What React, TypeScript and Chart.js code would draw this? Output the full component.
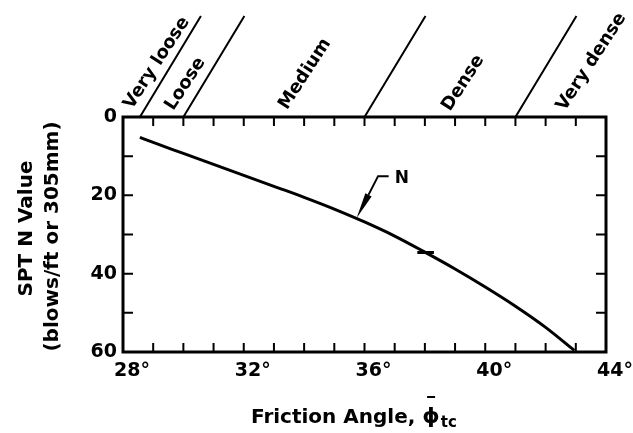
import React, { useEffect, useRef } from "react";
import { Chart, registerables } from "chart.js";

Chart.register(...registerables);

// ---- data ----
const frictionAngle = [28.56, 29, 30, 31, 32, 33, 34, 35, 36, 37, 38, 39, 40, 41, 42, 42.95];
const sptN = [5.2, 6.5, 9.3, 12.1, 14.9, 17.7, 20.5, 23.5, 26.8, 30.4, 34.5, 38.8, 43.4, 48.3, 53.7, 59.6];
const markAngle = [37.75, 38.3];
const markN = [34.6, 34.6];
const xTickValues = [28, 32, 36, 40, 44];
const yTickValues = [0, 20, 40, 60];
const zoneBoundaries = [28.56, 30, 36, 41];
const zoneLabels = ["Very loose", "Loose", "Medium", "Dense", "Very dense"];
const curveLabel = "N";

const FONT = "'DejaVu Sans', sans-serif";

// label anchors: [angle on x axis, pixels above plot top]
const zoneLabelAnchors: [number, number][] = [
  [29.12, 54],
  [30.07, 33],
  [34.03, 43],
  [39.27, 34],
  [43.52, 55],
];

const overlayPlugin = {
  id: "overlay",
  afterDraw(chart: any) {
    const { ctx, chartArea: a, scales } = chart;
    const x = scales.x;
    const y = scales.y;
    ctx.save();
    ctx.strokeStyle = "#000";
    ctx.fillStyle = "#000";

    // frame
    ctx.lineWidth = 3;
    ctx.strokeRect(a.left, a.top, a.right - a.left, a.bottom - a.top);

    // inward minor ticks
    ctx.lineWidth = 2;
    ctx.beginPath();
    for (let d = x.min + 1; d < x.max; d += 1) {
      const px = x.getPixelForValue(d);
      ctx.moveTo(px, a.top);
      ctx.lineTo(px, a.top + 9);
      ctx.moveTo(px, a.bottom);
      ctx.lineTo(px, a.bottom - 9);
    }
    for (let n = y.min + 10; n < y.max; n += 10) {
      const py = y.getPixelForValue(n);
      ctx.moveTo(a.left, py);
      ctx.lineTo(a.left + 10, py);
      ctx.moveTo(a.right, py);
      ctx.lineTo(a.right - 10, py);
    }
    ctx.stroke();

    // zone boundary lines
    ctx.lineWidth = 2;
    ctx.beginPath();
    zoneBoundaries.forEach((b) => {
      const px = x.getPixelForValue(b);
      ctx.moveTo(px, a.top);
      ctx.lineTo(px + 61, a.top - 101);
    });
    ctx.stroke();

    // zone labels
    ctx.font = `bold 18px ${FONT}`;
    ctx.textAlign = "center";
    ctx.textBaseline = "middle";
    zoneLabels.forEach((t, i) => {
      const [deg, up] = zoneLabelAnchors[i];
      ctx.save();
      ctx.translate(x.getPixelForValue(deg), a.top - up);
      ctx.rotate((-57 * Math.PI) / 180);
      ctx.fillText(t, 0, 0);
      ctx.restore();
    });

    // N annotation with arrow
    const tip = { x: x.getPixelForValue(35.74), y: y.getPixelForValue(25.8) };
    const corner = { x: x.getPixelForValue(36.45), y: y.getPixelForValue(15.1) };
    const end = { x: x.getPixelForValue(36.8), y: corner.y };
    const dx = tip.x - corner.x;
    const dy = tip.y - corner.y;
    const len = Math.hypot(dx, dy);
    const ux = dx / len;
    const uy = dy / len;
    const headLen = 26;
    const base = { x: tip.x - ux * headLen, y: tip.y - uy * headLen };
    ctx.lineWidth = 2;
    ctx.beginPath();
    ctx.moveTo(end.x, end.y);
    ctx.lineTo(corner.x, corner.y);
    ctx.lineTo(base.x, base.y);
    ctx.stroke();
    ctx.beginPath();
    ctx.moveTo(tip.x, tip.y);
    ctx.lineTo(base.x - uy * 3.5, base.y + ux * 3.5);
    ctx.lineTo(base.x + uy * 3.5, base.y - ux * 3.5);
    ctx.closePath();
    ctx.fill();
    ctx.font = `bold 17px ${FONT}`;
    ctx.textAlign = "left";
    ctx.textBaseline = "middle";
    ctx.fillText(curveLabel, end.x + 6, corner.y + 2);

    // y axis title (two lines)
    ctx.font = `bold 20px ${FONT}`;
    ctx.textAlign = "center";
    ctx.textBaseline = "middle";
    const mid = (a.top + a.bottom) / 2;
    ctx.save();
    ctx.translate(27, mid - 6);
    ctx.rotate(-Math.PI / 2);
    ctx.fillText("SPT N Value", 0, 0);
    ctx.restore();
    ctx.save();
    ctx.translate(53, mid + 2);
    ctx.rotate(-Math.PI / 2);
    ctx.fillText("(blows/ft or 305mm)", 0, 0);
    ctx.restore();

    // x axis title
    ctx.textAlign = "left";
    ctx.textBaseline = "alphabetic";
    const tx = 251;
    const ty = 423;
    const t1 = "Friction Angle, ";
    ctx.font = `bold 20px ${FONT}`;
    ctx.fillText(t1, tx, ty);
    const phiX = tx + ctx.measureText(t1).width;
    const phi = "\u03D5";
    ctx.font = `bold 22px ${FONT}`;
    ctx.fillText(phi, phiX, ty);
    const phiW = ctx.measureText(phi).width;
    ctx.lineWidth = 2;
    ctx.beginPath();
    ctx.moveTo(phiX + phiW / 2 - 4, ty - 26);
    ctx.lineTo(phiX + phiW / 2 + 4, ty - 26);
    ctx.stroke();
    ctx.font = `bold 15px ${FONT}`;
    ctx.fillText("tc", phiX + phiW + 1, ty + 4);

    ctx.restore();
  },
};

export default function App() {
  const ref = useRef<HTMLCanvasElement | null>(null);
  useEffect(() => {
    if (!ref.current) return;
    const curve = frictionAngle.map((v, i) => ({ x: v, y: sptN[i] }));
    const mark = markAngle.map((v, i) => ({ x: v, y: markN[i] }));
    const chart = new Chart(ref.current, {
      type: "line",
      data: {
        datasets: [
          {
            label: curveLabel,
            data: curve,
            borderColor: "#000",
            borderWidth: 3,
            pointRadius: 0,
            tension: 0.4,
            cubicInterpolationMode: "monotone",
            fill: false,
          },
          {
            label: "mark",
            data: mark,
            borderColor: "#000",
            borderWidth: 3,
            pointRadius: 0,
            fill: false,
          },
        ],
      },
      options: {
        animation: false,
        responsive: false,
        devicePixelRatio: 1,
        layout: { padding: { top: 117, right: 27, left: 0, bottom: 0 } },
        plugins: { legend: { display: false }, tooltip: { enabled: false } },
        scales: {
          x: {
            type: "linear",
            min: 28,
            max: 44,
            afterBuildTicks: (s: any) => {
              s.ticks = xTickValues.map((v) => ({ value: v }));
            },
            afterFit: (s: any) => {
              s.height = 81;
            },
            ticks: {
              color: "#000",
              font: { family: FONT, size: 19, weight: "bold" },
              padding: 8,
              labelOffset: 9,
              maxRotation: 0,
              autoSkip: false,
              callback: (v: any) => `${v}°`,
            },
            grid: { display: false, drawTicks: false },
            border: { display: false },
          },
          y: {
            type: "linear",
            reverse: true,
            min: 0,
            max: 60,
            afterBuildTicks: (s: any) => {
              s.ticks = yTickValues.map((v) => ({ value: v }));
            },
            afterFit: (s: any) => {
              s.width = 123;
            },
            ticks: {
              color: "#000",
              font: { family: FONT, size: 19, weight: "bold" },
              padding: 6,
              autoSkip: false,
              callback: (v: any) => `${v}`,
            },
            grid: { display: false, drawTicks: false },
            border: { display: false },
          },
        },
      },
      plugins: [overlayPlugin],
    });
    return () => chart.destroy();
  }, []);
  return (
    <div style={{ position: "fixed", left: 0, top: 0, width: 633, height: 433, background: "#fff" }}>
      <canvas ref={ref} width={633} height={433} />
    </div>
  );
}
